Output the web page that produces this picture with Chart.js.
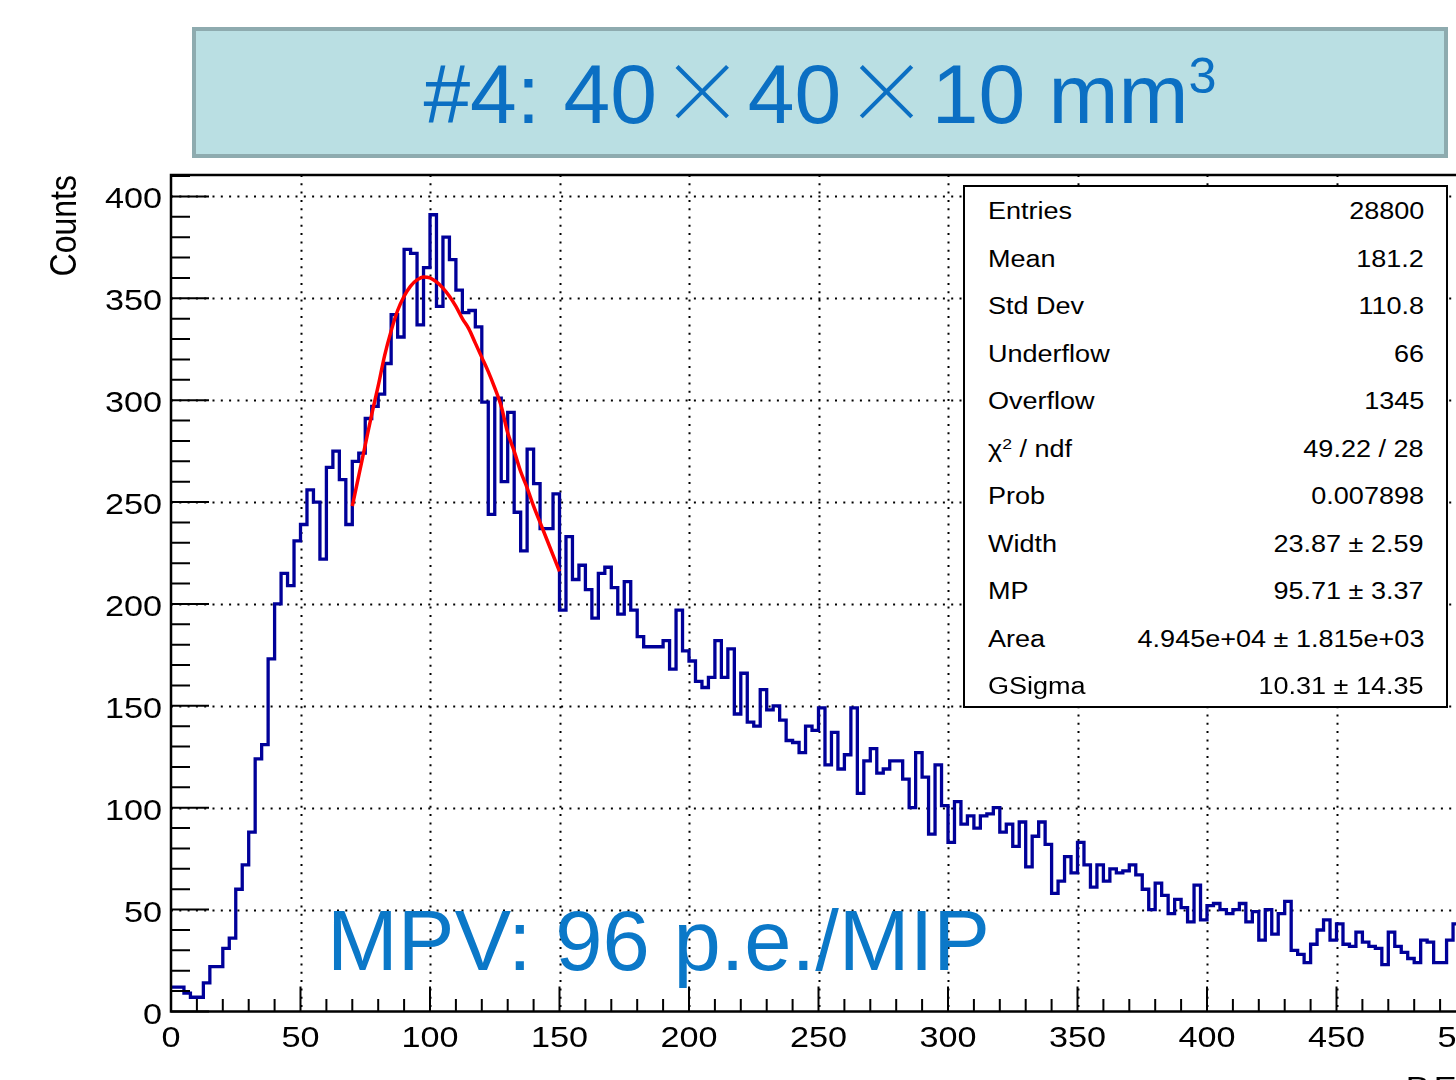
<!DOCTYPE html>
<html>
<head>
<meta charset="utf-8">
<script src="https://cdn.jsdelivr.net/npm/chart.js@4.4.0/dist/chart.umd.min.js"></script>
<style>
  html, body { margin: 0; padding: 0; background: #fff; overflow: hidden; }
  #wrap { position: relative; width: 1456px; height: 1080px; overflow: hidden; font-family: "Liberation Sans", Arial, Helvetica, sans-serif; }
  #chart-canvas { position: absolute; left: 0; top: 0; }
  #title-box {
    position: absolute; left: 192px; top: 27px; width: 1256px; height: 131px;
    box-sizing: border-box; border: 4px solid #8eabaf; background: #badfe3;
    color: #0b6fc3; font-size: 84px; line-height: 112px; text-align: center; white-space: nowrap;
  }
  #title-box .times { font-family: "Noto Sans CJK JP", sans-serif; font-weight: 300; margin: 0 0.04em; }
  #title-box sup { font-size: 0.6em; vertical-align: 0.6em; line-height: 0; }
  #mpv { position: absolute; left: 327px; top: 898px; font-size: 85px; line-height: 1; color: #0b78c8; white-space: nowrap; }
  #stat-box {
    position: absolute; left: 963px; top: 185px; width: 485px; height: 523px;
    box-sizing: border-box; border: 2px solid #000; background: #fff; padding-top: 1px;
  }
  .stat-row { position: relative; height: 47.5px; line-height: 47.5px; font-size: 23.5px; color: #000; }
  .stat-row .name { position: absolute; left: 23px; transform: scaleX(1.15); transform-origin: left center; white-space: nowrap; }
  .stat-row .val { position: absolute; right: 22px; transform: scaleX(1.15); transform-origin: right center; white-space: nowrap; }
  .stat-row sup { font-size: 0.65em; vertical-align: 0.55em; line-height: 0; }
</style>
</head>
<body>
<div id="wrap">
  <canvas id="chart-canvas" width="1520" height="1080"></canvas>
  <div id="title-box">#4: 40<span class="times">×</span>40<span class="times">×</span>10 mm<sup>3</sup></div>
  <div id="stat-box"></div>
  <div id="mpv">MPV: 96 p.e./MIP</div>
</div>
<script>
// histogram: 200 bins of 2.5 p.e. from 0 to 500
const binWidth = 2.5;
const counts = [
  12, 12, 9, 7, 7, 14, 22, 22, 31, 36,
  60, 72, 88, 124, 131, 173, 200, 215, 209, 231,
  239, 256, 250, 222, 267, 275, 261, 239, 270, 274,
  291, 297, 303, 318, 342, 331, 374, 372, 337, 365,
  391, 346, 380, 369, 354, 343, 344, 336, 299, 244,
  301, 260, 294, 245, 226, 276, 259, 237, 237, 254,
  197, 233, 212, 219, 207, 193, 215, 218, 208, 195,
  211, 197, 184, 179, 179, 179, 182, 168, 197, 177,
  172, 162, 159, 164, 182, 164, 178, 146, 166, 142,
  140, 158, 148, 150, 143, 133, 132, 127, 140, 138,
  149, 121, 137, 119, 126, 149, 107, 123, 129, 117,
  119, 123, 123, 114, 100, 127, 115, 87, 121, 101,
  83, 103, 92, 96, 90, 96, 97, 100, 88, 92,
  81, 93, 71, 86, 93, 82, 58, 64, 76, 68,
  83, 72, 61, 72, 64, 70, 68, 69, 72, 67,
  60, 50, 63, 57, 48, 55, 51, 44, 62, 45,
  52, 53, 50, 48, 50, 53, 44, 49, 35, 50,
  38, 48, 54, 30, 28, 24, 33, 40, 45, 35,
  43, 33, 32, 39, 34, 32, 31, 23, 39, 32,
  29, 26, 24, 35, 34, 24, 24, 35, 43, 43
];

// red fit curve
const fitX = [70, 72.5, 75, 77.5, 80, 82.5, 85, 87.5, 90, 92.5, 95, 97.5, 100, 102.5, 105, 107.5, 110,
  112.5, 115, 117.5, 120, 122.5, 125, 127.5, 130, 132.5, 135, 137.5, 140, 142.5, 145, 147.5, 150];
const fitY = [248, 263, 278, 293, 307, 322, 334, 344, 351, 356, 359, 360.5, 360, 358, 355, 351, 346,
  340, 335, 328, 321, 314, 306, 297, 284, 275, 265, 257, 248, 240, 232, 224, 216];

const xTicks = [0, 50, 100, 150, 200, 250, 300, 350, 400, 450, 500];
const yTicks = [0, 50, 100, 150, 200, 250, 300, 350, 400];

const statNames = ['Entries', 'Mean', 'Std Dev', 'Underflow', 'Overflow', 'χ<sup>2</sup> / ndf',
  'Prob', 'Width', 'MP', 'Area', 'GSigma'];
const statValues = ['28800', '181.2', '110.8', '66', '1345', '49.22 / 28', '0.007898',
  '23.87 ± 2.59', '95.71 ± 3.37', '4.945e+04 ± 1.815e+03', '10.31 ± 14.35'];

let statBox = document.getElementById('stat-box');
statNames.forEach((n, i) => {
  let row = document.createElement('div');
  row.className = 'stat-row';
  row.innerHTML = `<span class="name">${n}</span><span class="val">${statValues[i]}</span>`;
  statBox.appendChild(row);
});

// each point is a bin's low edge; the step runs flat to the next edge
let histPoints = counts.map((c, i) => ({ x: i * binWidth, y: c }));
histPoints.push({ x: counts.length * binWidth, y: counts[counts.length - 1] });
let fitPoints = fitX.map((x, i) => ({ x: x, y: fitY[i] }));

const stretch = 1.14; // the plot is a bit wider than tall in the picture
const labelFont = '30px "Liberation Sans", Arial, sans-serif';

function stretchedText(ctx, text, px, py, align) {
  ctx.save();
  ctx.translate(px, py);
  ctx.scale(stretch, 1);
  ctx.textAlign = align;
  ctx.textBaseline = 'alphabetic';
  ctx.fillText(text, 0, 0);
  ctx.restore();
}

// ROOT style frame: dotted grid, inner ticks on left and bottom, labels
const rootFrame = {
  id: 'rootFrame',
  beforeDatasetsDraw(chart) {
    const { ctx, chartArea: a, scales: { x, y } } = chart;
    ctx.save();
    ctx.strokeStyle = '#000';
    ctx.lineWidth = 2;
    ctx.setLineDash([2, 6.3]);
    ctx.beginPath();
    xTicks.forEach(v => {
      if (v <= x.min || v >= x.max) return;
      let px = Math.round(x.getPixelForValue(v)) + 0.5;
      ctx.moveTo(px, a.top);
      ctx.lineTo(px, a.bottom);
    });
    yTicks.forEach(v => {
      if (v <= y.min) return;
      let py = Math.round(y.getPixelForValue(v)) + 0.5;
      ctx.moveTo(a.left, py);
      ctx.lineTo(a.right, py);
    });
    ctx.stroke();
    ctx.restore();
  },
  afterDatasetsDraw(chart) {
    const { ctx, chartArea: a, scales: { x, y } } = chart;
    ctx.save();
    ctx.strokeStyle = '#000';
    ctx.lineWidth = 2.5;
    ctx.strokeRect(a.left, a.top, a.right - a.left, a.bottom - a.top);
    ctx.lineWidth = 2;
    ctx.beginPath();
    for (let v = 0; v <= 500; v += 10) {
      let px = x.getPixelForValue(v);
      let len = v % 50 === 0 ? 25 : 12.5;
      ctx.moveTo(px, a.bottom); ctx.lineTo(px, a.bottom - len);
    }
    for (let v = 0; v <= y.max; v += 10) {
      let py = y.getPixelForValue(v);
      let len = v % 50 === 0 ? 38 : 19;
      ctx.moveTo(a.left, py); ctx.lineTo(a.left + len, py);
    }
    ctx.stroke();
    ctx.restore();
  },
  afterDraw(chart) {
    const { ctx, chartArea: a, scales: { x, y } } = chart;
    ctx.save();
    ctx.fillStyle = '#000';
    ctx.font = labelFont;
    xTicks.forEach(v => stretchedText(ctx, String(v), x.getPixelForValue(v), a.bottom + 35.5, 'center'));
    yTicks.forEach(v => stretchedText(ctx, String(v), a.left - 9, y.getPixelForValue(v) + 12, 'right'));
    stretchedText(ctx, 'P.E.', a.right, a.bottom + 85, 'right');
    // y title, rotated and right aligned to the top of the axis
    ctx.translate(76, a.top);
    ctx.rotate(-Math.PI / 2);
    ctx.scale(1, stretch);
    ctx.textAlign = 'right';
    ctx.textBaseline = 'alphabetic';
    ctx.font = '32px "Liberation Sans", Arial, sans-serif';
    ctx.fillText('Counts', 0, 0);
    ctx.restore();
  }
};

let chartCanvas = document.getElementById('chart-canvas');

const myChart = new Chart(chartCanvas, {
  type: 'line',
  data: {
    datasets: [{
      label: 'fit',
      data: fitPoints,
      borderColor: '#ff0000',
      borderWidth: 3.5,
      pointRadius: 0,
      fill: false,
      cubicInterpolationMode: 'monotone'
    }, {
      label: 'hist',
      data: histPoints,
      borderColor: '#000099',
      borderWidth: 3.3,
      pointRadius: 0,
      fill: false,
      stepped: 'before'
    }]
  },
  options: {
    responsive: false,
    animation: false,
    devicePixelRatio: 1,
    layout: { padding: { left: 171, right: 1520 - 1466, top: 175, bottom: 1080 - 1011.5 } },
    plugins: { legend: { display: false }, tooltip: { enabled: false } },
    scales: {
      x: { type: 'linear', min: 0, max: 500, display: false },
      y: { type: 'linear', min: 0, max: 410.5, display: false }
    }
  },
  plugins: [rootFrame]
});
</script>
</body>
</html>
